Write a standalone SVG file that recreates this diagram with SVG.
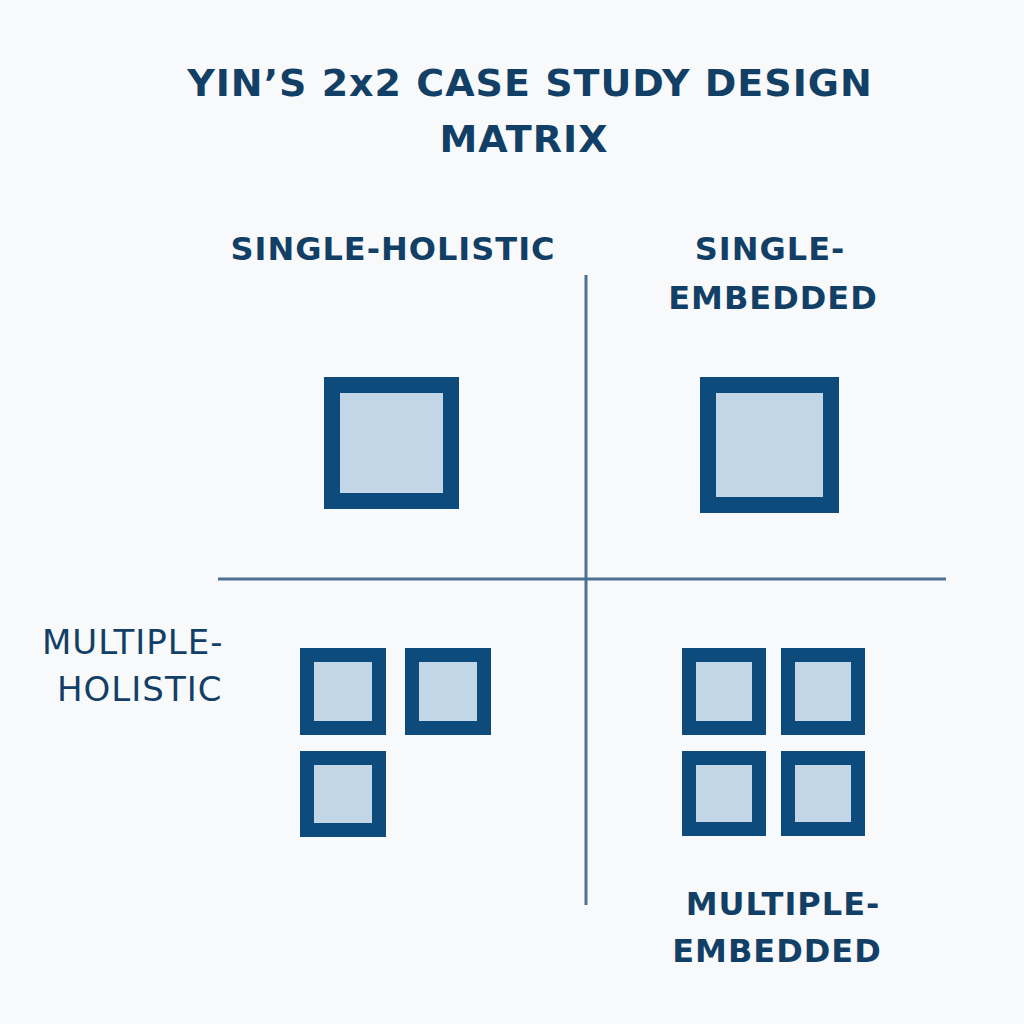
<svg xmlns="http://www.w3.org/2000/svg" width="1024" height="1024" viewBox="0 0 1024 1024">
<style>
.t{font-family:"DejaVu Sans","Liberation Sans",sans-serif;fill:#123f66}
.b{font-weight:bold}
.box{fill:#c3d6e7;stroke:#0e4b7d}
.ax{stroke:#4d7192;stroke-width:3}
</style>
<rect width="1024" height="1024" fill="#f8f9fb"/>
<text class="t b" x="530" y="96" font-size="38" text-anchor="middle" letter-spacing="1">YIN’S 2x2 CASE STUDY DESIGN</text>
<text class="t b" x="524" y="152" font-size="38" text-anchor="middle" letter-spacing="1">MATRIX</text>
<g id="connectors">
<line class="ax" x1="586" y1="275" x2="586" y2="905"/>
<line class="ax" x1="218" y1="579" x2="946" y2="579"/>
</g>
<g id="single-holistic">
<text class="t b" x="393" y="260" font-size="32" text-anchor="middle" letter-spacing="1">SINGLE-HOLISTIC</text>
<rect class="box" x="332" y="385" width="119" height="116" stroke-width="16"/>
</g>
<g id="single-embedded">
<text class="t b" x="770" y="260" font-size="32" text-anchor="middle" letter-spacing="1">SINGLE-</text>
<text class="t b" x="773" y="309" font-size="32" text-anchor="middle" letter-spacing="1">EMBEDDED</text>
<rect class="box" x="708" y="385" width="123" height="120" stroke-width="16"/>
</g>
<g id="multiple-holistic">
<text class="t" x="42" y="654" font-size="34" letter-spacing="1">MULTIPLE-</text>
<text class="t" x="57" y="701" font-size="34" letter-spacing="1">HOLISTIC</text>
<rect class="box" x="307" y="655" width="72" height="73" stroke-width="14"/>
<rect class="box" x="412" y="655" width="72" height="73" stroke-width="14"/>
<rect class="box" x="307" y="758" width="72" height="72" stroke-width="14"/>
</g>
<g id="multiple-embedded">
<text class="t b" x="783" y="915" font-size="32" text-anchor="middle" letter-spacing="1">MULTIPLE-</text>
<text class="t b" x="777" y="962" font-size="32" text-anchor="middle" letter-spacing="1">EMBEDDED</text>
<rect class="box" x="689" y="655" width="70" height="73" stroke-width="14"/>
<rect class="box" x="788" y="655" width="70" height="73" stroke-width="14"/>
<rect class="box" x="689" y="758" width="70" height="71" stroke-width="14"/>
<rect class="box" x="788" y="758" width="70" height="71" stroke-width="14"/>
</g>
</svg>
